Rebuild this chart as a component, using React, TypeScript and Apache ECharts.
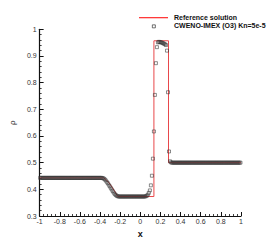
import React, { useEffect, useRef } from "react";
import * as echarts from "echarts";

const xTicks = [-1, -0.8, -0.6, -0.4, -0.2, 0, 0.2, 0.4, 0.6, 0.8, 1];

// Reference solution (exact) breakpoints
const refX = [-1, -0.365, -0.34, -0.31, -0.28, -0.25, -0.225, 0.135, 0.135, 0.28, 0.28, 1];
const refY = [0.443, 0.443, 0.436, 0.424, 0.408, 0.39, 0.373, 0.373, 0.957, 0.957, 0.5, 0.5];

// CWENO-IMEX (O3) cell centres x = -0.995 + 0.01*i, i = 0..199
const numX = [
  -0.995, -0.985, -0.975, -0.965, -0.955, -0.945, -0.935, -0.925, -0.915, -0.905,
  -0.895, -0.885, -0.875, -0.865, -0.855, -0.845, -0.835, -0.825, -0.815, -0.805,
  -0.795, -0.785, -0.775, -0.765, -0.755, -0.745, -0.735, -0.725, -0.715, -0.705,
  -0.695, -0.685, -0.675, -0.665, -0.655, -0.645, -0.635, -0.625, -0.615, -0.605,
  -0.595, -0.585, -0.575, -0.565, -0.555, -0.545, -0.535, -0.525, -0.515, -0.505,
  -0.495, -0.485, -0.475, -0.465, -0.455, -0.445, -0.435, -0.425, -0.415, -0.405,
  -0.395, -0.385, -0.375, -0.365, -0.355, -0.345, -0.335, -0.325, -0.315, -0.305,
  -0.295, -0.285, -0.275, -0.265, -0.255, -0.245, -0.235, -0.225, -0.215, -0.205,
  -0.195, -0.185, -0.175, -0.165, -0.155, -0.145, -0.135, -0.125, -0.115, -0.105,
  -0.095, -0.085, -0.075, -0.065, -0.055, -0.045, -0.035, -0.025, -0.015, -0.005,
  0.005, 0.015, 0.025, 0.035, 0.045, 0.055, 0.065, 0.075, 0.085, 0.095,
  0.105, 0.115, 0.125, 0.135, 0.145, 0.155, 0.165, 0.175, 0.185, 0.195,
  0.205, 0.215, 0.225, 0.235, 0.245, 0.255, 0.265, 0.275, 0.285, 0.295,
  0.305, 0.315, 0.325, 0.335, 0.345, 0.355, 0.365, 0.375, 0.385, 0.395,
  0.405, 0.415, 0.425, 0.435, 0.445, 0.455, 0.465, 0.475, 0.485, 0.495,
  0.505, 0.515, 0.525, 0.535, 0.545, 0.555, 0.565, 0.575, 0.585, 0.595,
  0.605, 0.615, 0.625, 0.635, 0.645, 0.655, 0.665, 0.675, 0.685, 0.695,
  0.705, 0.715, 0.725, 0.735, 0.745, 0.755, 0.765, 0.775, 0.785, 0.795,
  0.805, 0.815, 0.825, 0.835, 0.845, 0.855, 0.865, 0.875, 0.885, 0.895,
  0.905, 0.915, 0.925, 0.935, 0.945, 0.955, 0.965, 0.975, 0.985, 0.995,
];
const numY = [
  0.443, 0.443, 0.443, 0.443, 0.443, 0.443, 0.443, 0.443, 0.443, 0.443,
  0.443, 0.443, 0.443, 0.443, 0.443, 0.443, 0.443, 0.443, 0.443, 0.443,
  0.443, 0.443, 0.443, 0.443, 0.443, 0.443, 0.443, 0.443, 0.443, 0.443,
  0.443, 0.443, 0.443, 0.443, 0.443, 0.443, 0.443, 0.443, 0.443, 0.443,
  0.443, 0.443, 0.443, 0.443, 0.443, 0.443, 0.443, 0.443, 0.443, 0.443,
  0.443, 0.443, 0.443, 0.443, 0.443, 0.443, 0.443, 0.443, 0.443, 0.443,
  0.443, 0.443, 0.442, 0.441, 0.438, 0.434, 0.429, 0.424, 0.418, 0.412,
  0.406, 0.4, 0.394, 0.388, 0.383, 0.379, 0.376, 0.374, 0.373, 0.373,
  0.373, 0.373, 0.373, 0.373, 0.373, 0.373, 0.373, 0.373, 0.373, 0.373,
  0.373, 0.373, 0.373, 0.373, 0.373, 0.373, 0.373, 0.373, 0.373, 0.373,
  0.373, 0.373, 0.373, 0.373, 0.373, 0.374, 0.376, 0.38, 0.387, 0.396,
  0.415, 0.451, 0.515, 0.617, 0.754, 0.873, 0.933, 0.951, 0.953, 0.952,
  0.951, 0.95, 0.948, 0.946, 0.944, 0.941, 0.92, 0.764, 0.542, 0.505,
  0.501, 0.5, 0.5, 0.5, 0.5, 0.5, 0.5, 0.5, 0.5, 0.5,
  0.5, 0.5, 0.5, 0.5, 0.5, 0.5, 0.5, 0.5, 0.5, 0.5,
  0.5, 0.5, 0.5, 0.5, 0.5, 0.5, 0.5, 0.5, 0.5, 0.5,
  0.5, 0.5, 0.5, 0.5, 0.5, 0.5, 0.5, 0.5, 0.5, 0.5,
  0.5, 0.5, 0.5, 0.5, 0.5, 0.5, 0.5, 0.5, 0.5, 0.5,
  0.5, 0.5, 0.5, 0.5, 0.5, 0.5, 0.5, 0.5, 0.5, 0.5,
  0.5, 0.5, 0.5, 0.5, 0.5, 0.5, 0.5, 0.5, 0.5, 0.5,
];

const legendLabels = ["Reference solution", "CWENO-IMEX (O3) Kn=5e-5"];

export default function App() {
  const ref = useRef<HTMLDivElement>(null);
  useEffect(() => {
    document.body.style.margin = "0";
    const chart = echarts.init(ref.current!, null, { renderer: "svg" });
    const font = "Liberation Sans, Arial, sans-serif";
    chart.setOption({
      animation: false,
      backgroundColor: "#fff",
      grid: { left: 36, right: 33, top: 29.3, bottom: 28, containLabel: false },
      xAxis: {
        type: "value",
        min: -1,
        max: 1,
        interval: 0.2,
        name: "x",
        nameLocation: "middle",
        nameGap: 13,
        nameTextStyle: { fontFamily: font, fontSize: 9, fontWeight: "bold", color: "#111" },
        axisLine: { show: true, onZero: false, lineStyle: { color: "#111", width: 1.2 } },
        axisTick: { show: true, inside: true, length: 4, lineStyle: { color: "#111", width: 1 } },
        minorTick: { show: true, splitNumber: 5, length: 2, lineStyle: { color: "#111", width: 0.8 } },
        splitLine: { show: false },
        axisLabel: {
          fontFamily: font,
          fontSize: 7,
          color: "#333",
          margin: 2,
          formatter: (v: number) => {
            const t = xTicks.find((k) => Math.abs(k - v) < 1e-9);
            return t === undefined ? "" : String(t);
          },
        },
      },
      yAxis: {
        type: "value",
        min: 0.3,
        max: 1,
        interval: 0.1,
        name: "ρ",
        nameLocation: "middle",
        nameGap: 21,
        nameRotate: 90,
        nameTextStyle: { fontFamily: font, fontSize: 8, color: "#222" },
        axisLine: { show: true, onZero: false, lineStyle: { color: "#111", width: 1.2 } },
        axisTick: { show: true, inside: true, length: 4, lineStyle: { color: "#111", width: 1 } },
        minorTick: { show: true, splitNumber: 5, length: 2, lineStyle: { color: "#111", width: 0.8 } },
        splitLine: { show: false },
        axisLabel: {
          fontFamily: font,
          fontSize: 7,
          color: "#333",
          margin: 3,
          formatter: (v: number) => String(Math.round(v * 10) / 10),
        },
      },
      graphic: {
        elements: [
          {
            type: "rect",
            left: 139,
            top: 17,
            z: 100,
            shape: { width: 29, height: 1.3 },
            style: { fill: "#ff3a3a" },
          },
          {
            type: "rect",
            left: 152,
            top: 24.5,
            z: 100,
            shape: { width: 3, height: 3 },
            style: { fill: "#fff", stroke: "#333", lineWidth: 0.7 },
          },
          {
            type: "text",
            left: 174,
            top: 13.5,
            style: { text: legendLabels[0], font: "bold 7px Liberation Sans, Arial, sans-serif", fill: "#111" },
          },
          {
            type: "text",
            left: 174,
            top: 22,
            style: { text: legendLabels[1], font: "bold 7px Liberation Sans, Arial, sans-serif", fill: "#111" },
          },
        ],
      },
      series: [
        {
          name: legendLabels[0],
          type: "line",
          data: refX.map((x, i) => [x, refY[i]]),
          showSymbol: false,
          symbol: "none",
          lineStyle: { color: "#e8484b", width: 1 },
          z: 2,
        },
        {
          name: legendLabels[1],
          type: "scatter",
          data: numX.map((x, i) => [x, numY[i]]),
          symbol: "rect",
          symbolSize: 3,
          itemStyle: { color: "rgba(0,0,0,0)", borderColor: "#333", borderWidth: 0.7 },
          z: 3,
        },
      ],
    });
    return () => chart.dispose();
  }, []);
  return <div ref={ref} style={{ width: 274, height: 244 }} />;
}
